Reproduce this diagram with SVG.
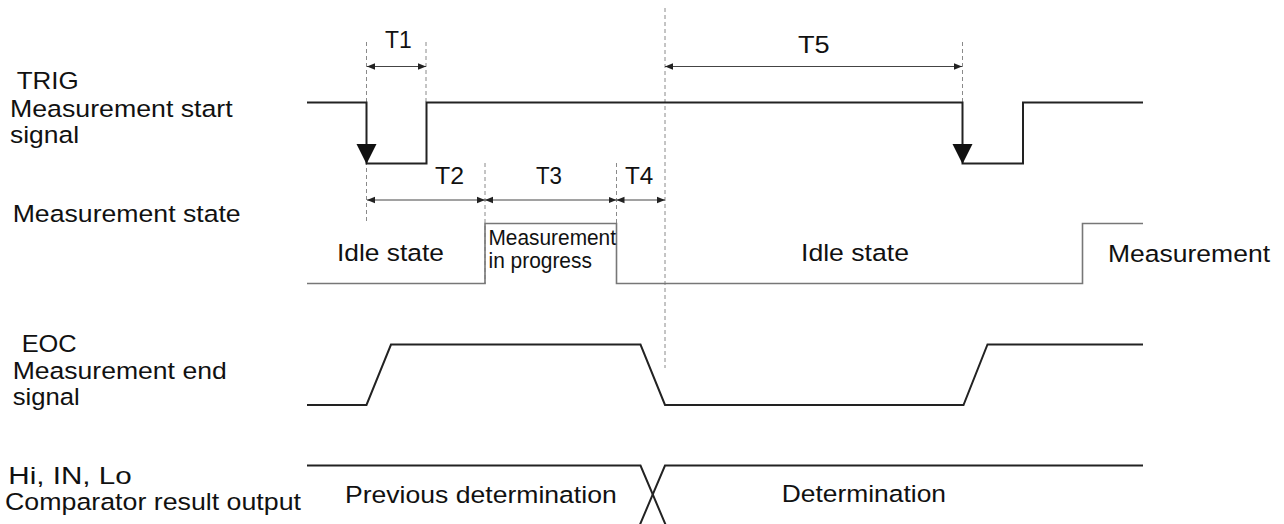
<svg xmlns="http://www.w3.org/2000/svg" width="1284" height="524" viewBox="0 0 1284 524">
<defs>
<style>
text{font-family:"Liberation Sans",Arial,sans-serif;font-size:24.5px;fill:#111}
.sm{font-size:21.5px}
.sig{fill:none;stroke:#222;stroke-width:2}
.st{fill:none;stroke:#777;stroke-width:1.6}
.dash{stroke:#8a8a8a;stroke-width:1;stroke-dasharray:4 3;fill:none}
.dim{stroke:#444;stroke-width:1;fill:none;marker-start:url(#ah);marker-end:url(#ah)}
.trig{fill:#111}
</style>
<marker id="ah" viewBox="0 0 10 10" refX="10" refY="5" markerWidth="8" markerHeight="8" markerUnits="userSpaceOnUse" orient="auto-start-reverse">
<path d="M0,1 L10,5 L0,9 Z" fill="#222"/>
</marker>
</defs>
<rect width="1284" height="524" fill="#fff"/>

<g id="labels">
<text x="16.7" y="89" textLength="62" lengthAdjust="spacingAndGlyphs">TRIG</text>
<text x="10" y="116.5" textLength="222.7" lengthAdjust="spacingAndGlyphs">Measurement start</text>
<text x="10" y="143" textLength="69" lengthAdjust="spacingAndGlyphs">signal</text>
<text x="12.7" y="221.5" textLength="228" lengthAdjust="spacingAndGlyphs">Measurement state</text>
<text x="21.7" y="351.5" textLength="55" lengthAdjust="spacingAndGlyphs">EOC</text>
<text x="12.7" y="379" textLength="214" lengthAdjust="spacingAndGlyphs">Measurement end</text>
<text x="12.7" y="405" textLength="67" lengthAdjust="spacingAndGlyphs">signal</text>
<text x="8.3" y="484.3" font-size="23" textLength="123.4" lengthAdjust="spacingAndGlyphs">Hi, IN, Lo</text>
<text x="5" y="509.5" textLength="296" lengthAdjust="spacingAndGlyphs">Comparator result output</text>
</g>

<g id="guides">
<line class="dash" x1="366.5" y1="42" x2="366.5" y2="223"/>
<line class="dash" x1="426" y1="42" x2="426" y2="102"/>
<line class="dash" x1="485" y1="163" x2="485" y2="284"/>
<line class="dash" x1="616.5" y1="163" x2="616.5" y2="284"/>
<line class="dash" x1="665" y1="8" x2="665" y2="368"/>
<line class="dash" x1="962.5" y1="42" x2="962.5" y2="102"/>
</g>

<g id="trig-signal">
<path class="sig" d="M307 102.5 H366.5 V163.5 H426.5 V102.5 H962.5 V163.5 H1023 V102.5 H1143"/>
<path class="trig" d="M356.5 144 H376.5 L366.5 164 Z"/>
<path class="trig" d="M952.5 144 H972.5 L962.5 164 Z"/>
</g>

<g id="measurement-state">
<path class="st" d="M307 283.5 H485 V223.5 H616.5 V283.5 H1082.5 V223.5 H1143"/>
<text x="337" y="261" textLength="107" lengthAdjust="spacingAndGlyphs">Idle state</text>
<text class="sm" x="488.5" y="244.5" textLength="127.5" lengthAdjust="spacingAndGlyphs">Measurement</text>
<text class="sm" x="488.5" y="268" textLength="103.4" lengthAdjust="spacingAndGlyphs">in progress</text>
<text x="801" y="261" textLength="108" lengthAdjust="spacingAndGlyphs">Idle state</text>
<text x="1108" y="261.5" textLength="162" lengthAdjust="spacingAndGlyphs">Measurement</text>
</g>

<g id="eoc-signal">
<path class="sig" d="M307 405 H366.5 L391 344.5 H640.5 L665 405 H963.5 L987.5 344.5 H1143"/>
</g>

<g id="comparator-output">
<path class="sig" d="M307 465.5 H640.5 L665.5 524.5"/>
<path class="sig" d="M1143 465.5 H665 L640 524.5"/>
<text x="345" y="502.7" textLength="271.7" lengthAdjust="spacingAndGlyphs">Previous determination</text>
<text x="781.7" y="501.7" textLength="164.3" lengthAdjust="spacingAndGlyphs">Determination</text>
</g>

<g id="connectors">
<line class="dim" x1="367" y1="66.5" x2="426" y2="66.5"/>
<line class="dim" x1="665" y1="66.5" x2="962" y2="66.5"/>
<line class="dim" x1="367" y1="200" x2="485" y2="200"/>
<line class="dim" x1="485" y1="200" x2="616.5" y2="200"/>
<line class="dim" x1="616.5" y1="200" x2="665" y2="200"/>
<text x="385" y="48" textLength="26.7" lengthAdjust="spacingAndGlyphs">T1</text>
<text x="435" y="184" textLength="29" lengthAdjust="spacingAndGlyphs">T2</text>
<text x="536" y="184" textLength="26" lengthAdjust="spacingAndGlyphs">T3</text>
<text x="625" y="184" textLength="28.3" lengthAdjust="spacingAndGlyphs">T4</text>
<text x="798" y="52.7" textLength="31.7" lengthAdjust="spacingAndGlyphs">T5</text>
</g>
</svg>
